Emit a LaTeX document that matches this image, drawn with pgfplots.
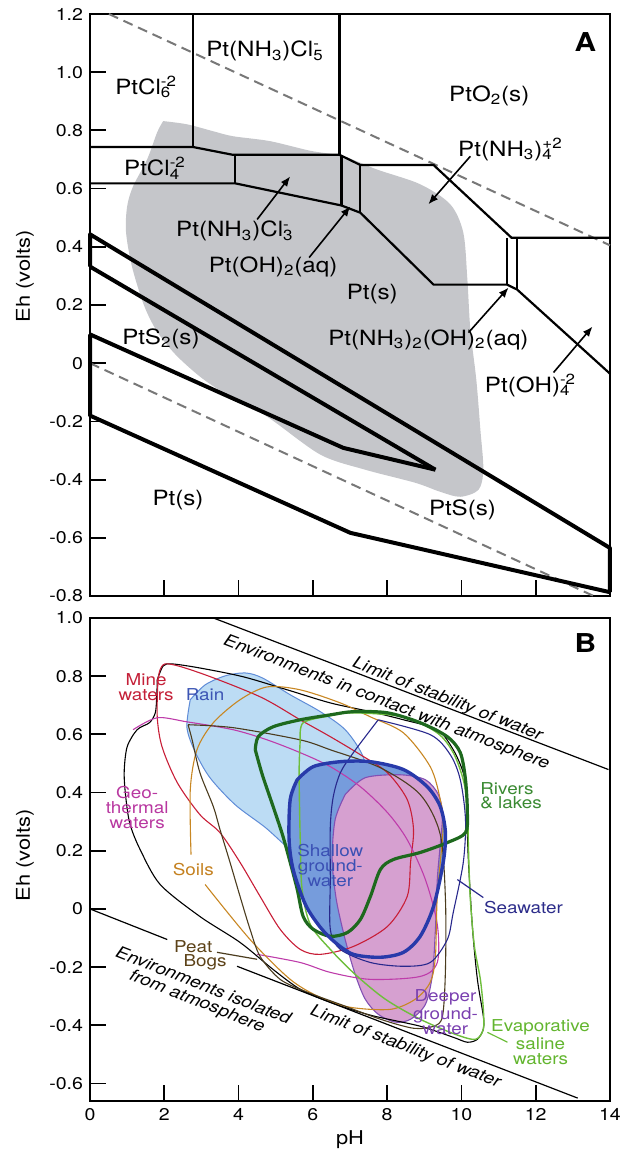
\documentclass[border=0pt]{standalone}
\usepackage{fontspec}
\setmainfont{TeX Gyre Heros}[FakeStretch=1.15]
\usepackage{pgfplots}
\pgfplotsset{compat=1.18}
\usetikzlibrary{arrows.meta}

\definecolor{blobgray}{RGB}{197,198,202}
\definecolor{dashgray}{RGB}{120,120,120}
\definecolor{rainfill}{RGB}{188,220,244}
\definecolor{rainline}{RGB}{95,140,215}
\definecolor{shalfill}{RGB}{118,156,220}
\definecolor{shalline}{RGB}{40,58,170}
\definecolor{deepfill}{RGB}{214,160,208}
\definecolor{deepline}{RGB}{130,80,180}
\definecolor{riverc}{RGB}{30,105,30}
\definecolor{evapc}{RGB}{110,190,60}
\definecolor{minec}{RGB}{200,30,55}
\definecolor{geoc}{RGB}{190,60,170}
\definecolor{soilc}{RGB}{200,135,35}
\definecolor{peatc}{RGB}{75,60,30}
\definecolor{seac}{RGB}{40,40,140}
\definecolor{tmine}{RGB}{196,32,56}
\definecolor{train}{RGB}{60,85,180}
\definecolor{tgeo}{RGB}{184,55,160}
\definecolor{tsoil}{RGB}{196,128,30}
\definecolor{tpeat}{RGB}{92,66,24}
\definecolor{tshal}{RGB}{58,80,180}
\definecolor{tsea}{RGB}{44,44,138}
\definecolor{tdeep}{RGB}{122,64,176}
\definecolor{tevap}{RGB}{98,181,46}
\definecolor{triver}{RGB}{58,138,50}

\newcommand{\sub}[1]{\textsubscript{#1}}
\newcommand{\subsup}[2]{\rlap{\textsubscript{#1}}\textsuperscript{#2}}
\newcommand{\fA}{\fontsize{10.5}{12}\selectfont}
\newcommand{\fB}{\fontsize{8.2}{7.4}\selectfont}
\newcommand{\fR}{\fontsize{8.3}{8.2}\selectfont\itshape}

\pgfplotsset{
  panel/.style={
    x=18.571pt, y=145.5pt, xmin=0, xmax=14,
    axis line style={line width=0.9pt},
    tick style={black, line width=0.9pt},
    tick align=inside, tick pos=left,
    major tick length=8pt,
    xtick={0,2,4,6,8,10,12,14},
    tick label style={font=\fontsize{8.5}{10}\selectfont},
    label style={font=\fontsize{9.5}{11}\selectfont},
    /pgf/number format/assume math mode=true,
    clip=false,
    ylabel={Eh (volts)},
  },
  thinl/.style={black, line width=1.1pt, line join=round},
  thickl/.style={black, line width=2pt, line join=round},
  dashl/.style={dashgray, line width=1pt, dash pattern=on 5pt off 3pt},
  arr/.style={black, line width=0.8pt, -{Latex[length=5pt,width=4pt]}},
  wl/.style={black, line width=0.6pt},
  cl/.style={line width=0.55pt, smooth},
}

\begin{document}
\begin{tikzpicture}
%%%%%%%%%%%%%%%%%%%% PANEL A
\begin{axis}[panel, at={(45pt,-298pt)}, anchor=south west,
  ymin=-0.8, ymax=1.2,
  ytick={-0.8,-0.6,-0.4,-0.2,0,0.2,0.4,0.6,0.8,1.0,1.2},
  yticklabels={-0.8,-0.6,-0.4,-0.2,0,0.2,0.4,0.6,0.8,1.0,1.2},
  xticklabel=\empty,
  ylabel style={at={(axis description cs:-0.125,0.549)}, anchor=center},
]
% natural waters field
\addplot[draw=none, fill=blobgray, smooth] coordinates {
(1.97,0.832) (2.61,0.821) (3.32,0.797) (3.85,0.780) (4.85,0.763) (5.93,0.730)
(6.82,0.711) (7.74,0.665) (8.89,0.615) (9.70,0.546) (10.05,0.449) (10.16,0.288)
(10.24,0.116) (10.40,-0.056) (10.51,-0.228) (10.59,-0.365) (10.46,-0.435)
(9.97,-0.459) (9.43,-0.442) (8.76,-0.411) (7.41,-0.366) (6.20,-0.314)
(4.77,-0.184) (3.64,-0.105) (2.96,-0.046) (2.30,0.030) (1.80,0.110) (1.45,0.200)
(1.13,0.332) (0.97,0.450) (1.00,0.539) (1.16,0.608) (1.54,0.701) (1.81,0.794)
(1.97,0.832)};
% water stability
\addplot[dashl] coordinates {(0.51,1.2) (14,0.405)};
\addplot[dashl] coordinates {(0,0) (13.56,-0.8)};
% thin boundaries
\addplot[thinl] coordinates {(2.77,1.2) (2.77,0.743)};
\addplot[thinl] coordinates {(0,0.743) (2.77,0.743) (3.85,0.716) (6.72,0.716) (7.28,0.681) (9.25,0.681) (11.35,0.431) (14,0.431)};
\addplot[thinl] coordinates {(6.72,1.2) (6.72,0.716)};
\addplot[thinl] coordinates {(3.91,0.716) (3.91,0.618)};
\addplot[thinl] coordinates {(0,0.618) (3.91,0.618) (6.77,0.542) (7.28,0.517) (9.25,0.270) (11.23,0.270) (11.50,0.253) (14,-0.036)};
\addplot[thinl] coordinates {(6.77,0.713) (6.77,0.542)};
\addplot[thinl] coordinates {(7.28,0.681) (7.28,0.517)};
\addplot[thinl] coordinates {(11.23,0.431) (11.23,0.270)};
\addplot[thinl] coordinates {(11.50,0.431) (11.50,0.253)};
% thick sulfide boundaries
\addplot[thickl] coordinates {(0,0.332) (0,0.443) (14,-0.635) (14,-0.787)};
\addplot[thickl] coordinates {(0,0.332) (9.30,-0.366)};
\addplot[thickl] coordinates {(0,0.099) (6.82,-0.291) (9.30,-0.366)};
\addplot[thickl] coordinates {(0,0.099) (0,-0.180) (7.01,-0.583) (14,-0.787)};
% arrows
\addplot[arr] coordinates {(4.50,0.494) (5.39,0.642)};
\addplot[arr] coordinates {(5.90,0.363) (7.01,0.539)};
\addplot[arr] coordinates {(10.24,0.711) (9.11,0.546)};
\addplot[arr] coordinates {(10.19,0.105) (11.27,0.260)};
\addplot[arr] coordinates {(12.48,-0.032) (13.53,0.126)};
% labels
\node[font=\fA] at (axis cs:1.51,0.949) {PtCl\subsup{6}{-2}};
\node[font=\fA] at (axis cs:4.66,1.072) {Pt(NH\sub{3})Cl\subsup{5}{-}};
\node[font=\fA] at (axis cs:10.75,0.918) {PtO\sub{2}(s)};
\node[font=\fA] at (axis cs:11.32,0.735) {Pt(NH\sub{3})\subsup{4}{+2}};
\node[font=\fA] at (axis cs:1.75,0.670) {PtCl\subsup{4}{-2}};
\node[font=\fA] at (axis cs:3.85,0.453) {Pt(NH\sub{3})Cl\subsup{3}{-}};
\node[font=\fA] at (axis cs:4.93,0.332) {Pt(OH)\sub{2}(aq)};
\node[font=\fA] at (axis cs:7.60,0.236) {Pt(s)};
\node[font=\fA] at (axis cs:9.11,0.081) {Pt(NH\sub{3})\sub{2}(OH)\sub{2}(aq)};
\node[font=\fA] at (axis cs:11.86,-0.077) {Pt(OH)\subsup{4}{-2}};
\node[font=\fA] at (axis cs:1.91,0.085) {PtS\sub{2}(s)};
\node[font=\fA] at (axis cs:2.37,-0.470) {Pt(s)};
\node[font=\fA] at (axis cs:10.03,-0.504) {PtS(s)};
\node[font=\fontsize{13}{14}\selectfont\bfseries] at (axis cs:13.34,1.104) {A};
\end{axis}

%%%%%%%%%%%%%%%%%%%% PANEL B
\begin{axis}[panel, at={(45pt,-550.5pt)}, anchor=south west,
  ymin=-0.66, ymax=1.0,
  ytick={-0.6,-0.4,-0.2,0,0.2,0.4,0.6,0.8,1.0},
  yticklabels={-0.6,-0.4,-0.2,0,0.2,0.4,0.6,0.8,1.0},
  xticklabels={0,2,4,6,8,10,12,14},
  xlabel={pH},
  xlabel style={at={(axis description cs:0.5,-0.081)}, anchor=center},
  ylabel style={at={(axis description cs:-0.125,0.509)}, anchor=center},
]
% Rain
\addplot[smooth, fill=rainfill, draw=rainline, line width=0.5pt] coordinates {
(2.70,0.719) (3.10,0.770) (3.64,0.801) (4.18,0.811) (4.64,0.794) (5.39,0.736)
(6.20,0.678) (6.87,0.616) (7.33,0.530) (7.55,0.427) (7.49,0.334) (7.14,0.256)
(6.60,0.187) (5.93,0.163) (5.39,0.204) (4.72,0.280) (3.91,0.358) (3.23,0.451)
(2.83,0.540) (2.61,0.623) (2.70,0.719)};
% Shallow groundwater fill
\addplot[smooth, fill=shalfill, draw=none] coordinates {
(5.58,0.444) (6.01,0.489) (6.74,0.506) (7.55,0.506) (8.44,0.479) (9.08,0.420)
(9.43,0.352) (9.57,0.262) (9.51,0.160) (9.25,0.009) (8.89,-0.094) (8.44,-0.149)
(7.82,-0.166) (7.09,-0.156) (6.60,-0.115) (6.20,-0.063) (5.80,0.015) (5.47,0.135)
(5.36,0.238) (5.39,0.376) (5.58,0.444)};
% Deeper groundwater
\addplot[smooth, fill=deepfill, draw=deepline, line width=0.55pt] coordinates {
(6.87,0.393) (7.41,0.451) (8.36,0.461) (9.03,0.444) (9.38,0.393) (9.49,0.324)
(9.43,0.221) (9.35,0.101) (9.30,-0.070) (9.22,-0.225) (9.03,-0.328) (8.63,-0.379)
(8.22,-0.389) (7.76,-0.362) (7.41,-0.310) (7.14,-0.225) (6.87,-0.105) (6.63,0.033)
(6.52,0.170) (6.60,0.307) (6.87,0.393)};
% Envelope (black)
\addplot[cl, black] coordinates {
(1.81,0.787) (1.97,0.835) (2.21,0.842) (2.96,0.828) (4.12,0.798) (5.31,0.753)
(6.47,0.708) (7.55,0.678) (8.44,0.650) (9.35,0.616) (9.78,0.547) (10.05,0.468)
(10.16,0.386) (10.16,0.273) (10.19,0.160) (10.30,-0.070) (10.43,-0.242)
(10.59,-0.369) (10.59,-0.413) (10.43,-0.448) (10.16,-0.458) (9.78,-0.441)
(8.89,-0.403) (7.55,-0.365) (6.47,-0.321) (5.66,-0.276) (4.93,-0.208) (4.04,-0.115)
(2.96,-0.026) (1.89,0.084) (1.35,0.204) (1.08,0.290) (0.97,0.376) (0.92,0.468)
(1.00,0.557) (1.27,0.616) (1.60,0.640) (1.76,0.675) (1.80,0.740) (1.81,0.787)};
% Mine waters
\addplot[cl, minec] coordinates {
(1.83,0.787) (2.02,0.842) (2.96,0.811) (4.58,0.729) (5.66,0.650) (6.47,0.592)
(7.28,0.530) (8.01,0.468) (8.54,0.376) (8.71,0.273) (8.63,0.160) (8.54,0.043)
(8.01,-0.060) (7.09,-0.129) (6.20,-0.156) (5.66,-0.139) (5.12,-0.070) (4.58,0.043)
(4.04,0.160) (3.50,0.262) (2.96,0.324) (2.35,0.434) (1.94,0.557) (1.81,0.660)
(1.83,0.787)};
% Geothermal
\addplot[cl, geoc] coordinates {
(1.16,0.616) (1.81,0.657) (2.61,0.643) (3.85,0.616) (4.77,0.581) (5.66,0.537)
(6.47,0.489) (7.28,0.420) (8.01,0.331) (8.54,0.238) (9.03,0.101) (9.35,-0.053)
(9.35,-0.184) (8.89,-0.232) (7.55,-0.242) (6.47,-0.218) (5.66,-0.184) (4.50,-0.156)};
% Soils
\addplot[cl, soilc] coordinates {
(2.72,0.187) (2.70,0.410) (2.88,0.547) (3.32,0.640) (4.04,0.719) (4.77,0.763)
(5.66,0.753) (6.74,0.708) (7.55,0.660) (8.44,0.605) (9.16,0.489) (9.43,0.376)
(9.51,0.283) (9.35,0.043) (9.30,-0.163) (9.16,-0.252) (8.76,-0.310) (8.09,-0.345)
(7.01,-0.338) (6.20,-0.304) (5.39,-0.242) (4.31,-0.105) (3.10,0.084)};
% Peat bogs
\addplot[cl, peatc] coordinates {
(2.64,0.633) (3.85,0.623) (5.66,0.581) (6.47,0.547) (7.82,0.485) (8.89,0.393)
(9.43,0.256) (9.57,0.033) (9.57,-0.208) (9.49,-0.369) (9.25,-0.403) (8.71,-0.410)
(7.82,-0.379) (6.74,-0.328) (5.85,-0.286) (5.12,-0.242) (4.58,-0.163) (4.31,-0.070)
(4.04,0.043) (3.77,0.160) (3.50,0.273) (3.32,0.352) (2.96,0.468) (2.75,0.581)
(2.64,0.633)};
% Seawater
\addplot[cl, seac] coordinates {
(7.76,0.650) (9.16,0.599) (9.70,0.530) (9.97,0.444) (10.11,0.307) (10.05,0.160)
(9.78,-0.012) (9.62,-0.105) (9.16,-0.184) (8.44,-0.197) (7.55,-0.184) (6.74,-0.139)
(6.47,-0.070) (6.47,0.101) (6.47,0.283) (6.55,0.386) (6.74,0.468) (7.09,0.537)
(7.76,0.650)};
% Evaporative saline waters
\addplot[cl, evapc, line width=0.7pt] coordinates {
(5.66,0.581) (5.74,0.640) (6.47,0.664) (7.09,0.674) (8.44,0.660) (9.35,0.605)
(9.78,0.537) (10.05,0.444) (10.16,0.352) (10.19,0.204) (10.24,0.033) (10.35,-0.129)
(10.51,-0.242) (10.59,-0.345) (10.59,-0.413) (10.38,-0.448) (9.84,-0.431)
(8.89,-0.379) (7.95,-0.310) (7.14,-0.225) (6.47,-0.139) (5.93,-0.053) (5.71,0.067)
(5.66,0.238) (5.63,0.468) (5.66,0.581)};
% Rivers & lakes
\addplot[smooth, riverc, line width=1.6pt] coordinates {
(4.45,0.547) (4.53,0.592) (4.93,0.626) (5.66,0.650) (6.47,0.667) (7.09,0.678)
(8.01,0.674) (8.89,0.640) (9.62,0.592) (9.97,0.537) (10.11,0.444) (10.16,0.331)
(10.11,0.262) (9.62,0.228) (8.89,0.194) (8.17,0.170) (7.82,0.136) (7.55,0.043)
(7.28,-0.036) (6.93,-0.081) (6.47,-0.094) (6.01,-0.070) (5.74,-0.026) (5.58,0.067)
(5.39,0.160) (5.18,0.256) (4.93,0.352) (4.64,0.461) (4.45,0.547)};
% Shallow groundwater outline
\addplot[smooth, shalline, line width=1.7pt] coordinates {
(5.58,0.444) (6.01,0.489) (6.74,0.506) (7.55,0.506) (8.44,0.479) (9.08,0.420)
(9.43,0.352) (9.57,0.262) (9.51,0.160) (9.25,0.009) (8.89,-0.094) (8.44,-0.149)
(7.82,-0.166) (7.09,-0.156) (6.60,-0.115) (6.20,-0.063) (5.80,0.015) (5.47,0.135)
(5.36,0.238) (5.39,0.376) (5.58,0.444)};
% water stability limits
\addplot[wl] coordinates {(3.32,1.0) (13.96,0.479)};
\addplot[wl] coordinates {(0,0) (2.08,-0.105)};
\addplot[wl] coordinates {(3.96,-0.197) (13.13,-0.650)};
% leaders
\addplot[seac, line width=0.6pt] coordinates {(9.89,0.101) (10.59,0.039)};
\addplot[evapc, line width=0.6pt] coordinates {(10.70,-0.424) (11.24,-0.458)};
\addplot[peatc, line width=0.6pt] coordinates {(3.42,-0.149) (4.50,-0.173)};
% labels
\node[font=\fB, text=tmine, align=center] at (axis cs:1.51,0.763) {Mine\\waters};
\node[font=\fB, text=train] at (axis cs:3.10,0.736) {Rain};
\node[font=\fB, text=tgeo, align=center] at (axis cs:1.27,0.348) {Geo-\\thermal\\waters};
\node[font=\fB, text=tsoil] at (axis cs:2.78,0.136) {Soils};
\node[font=\fB, text=tpeat] at (axis cs:2.78,-0.129) {Peat};
\node[font=\fB, text=tpeat] at (axis cs:3.10,-0.184) {Bogs};
\node[font=\fB, text=tshal, align=center] at (axis cs:6.47,0.149) {Shallow\\ground-\\water};
\node[font=\fB, text=tsea] at (axis cs:11.67,0.005) {Seawater};
\node[font=\fB, text=tdeep, align=center] at (axis cs:9.57,-0.355) {Deeper\\ground-\\water};
\node[font=\fB, text=tevap, align=center] at (axis cs:12.13,-0.458) {Evaporative\\saline\\waters};
\node[font=\fB, text=triver, align=left, anchor=west] at (axis cs:10.32,0.389) {Rivers\\\& lakes};
\node[font=\fR, rotate=-21.4] at (axis cs:9.62,0.719) {Limit of stability of water};
\node[font=\fR, rotate=-21] at (axis cs:7.98,0.708) {Environments in contact with atmosphere};
\node[font=\fR, rotate=-21.5, align=center] at (axis cs:2.96,-0.293) {Environments isolated\\from atmosphere};
\node[font=\fR, rotate=-21] at (axis cs:8.49,-0.475) {Limit of stability of water};
\node[font=\fontsize{13}{14}\selectfont\bfseries] at (axis cs:13.34,0.914) {B};
\end{axis}
\pgfresetboundingbox
\path (0,0) rectangle (315pt,-575pt);
\end{tikzpicture}
\end{document}
